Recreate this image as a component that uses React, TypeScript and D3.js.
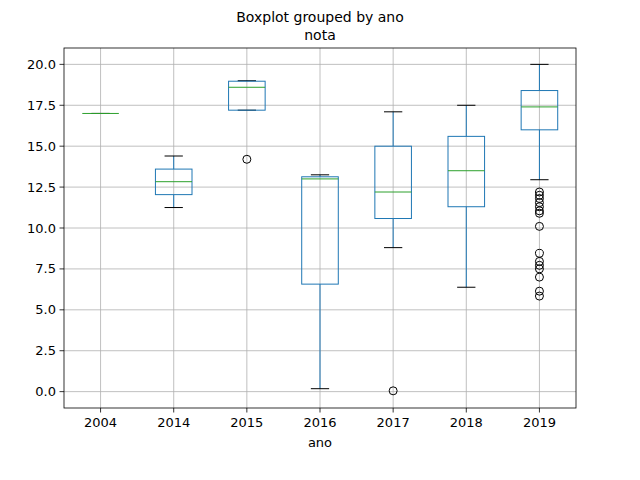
import * as d3 from 'd3'

const years = ['2004', '2014', '2015', '2016', '2017', '2018', '2019']
// [lowWhisker, q1, median, q3, highWhisker]
const stats: number[][] = [
  [17.0, 17.0, 17.0, 17.0, 17.0],
  [11.25, 12.04, 12.83, 13.6, 14.4],
  [17.2, 17.2, 18.6, 18.97, 19.0],
  [0.18, 6.57, 13.0, 13.13, 13.25],
  [8.8, 10.58, 12.2, 15.0, 17.1],
  [6.38, 11.3, 13.5, 15.6, 17.5],
  [12.95, 16.0, 17.4, 18.4, 20.0],
]
const outliers: number[][] = [
  [],
  [],
  [14.2],
  [],
  [0.05],
  [],
  [12.2, 12.0, 11.8, 11.55, 11.3, 11.05, 10.9, 10.1, 8.45, 7.96, 7.72, 7.5, 7.0, 6.14, 5.84],
]
const yTicks = [0, 2.5, 5, 7.5, 10, 12.5, 15, 17.5, 20]

export default function App() {
  const width = 640
  const height = 480
  const m = { left: 64, right: 576, top: 48, bottom: 408 }
  const x = d3.scaleBand().domain(years).range([m.left, m.right])
  const y = d3.scaleLinear().domain([-1, 21]).range([m.bottom, m.top])
  const bw = x.bandwidth()
  const font = 'DejaVu Sans, sans-serif'
  const blue = '#1f77b4'
  return (
    <svg width={width} height={height} style={{ position: 'absolute', left: 0, top: 0 }} fontFamily={font}>
      <rect width={width} height={height} fill="#fff" />
      <text x={320} y={22} textAnchor="middle" fontSize={14}>Boxplot grouped by ano</text>
      <text x={320} y={40} textAnchor="middle" fontSize={14}>nota</text>
      {years.map((yr) => {
        const cx = x(yr)! + bw / 2
        return (
          <g key={yr}>
            <line x1={cx} x2={cx} y1={m.top} y2={m.bottom} stroke="#b0b0b0" strokeWidth={0.8} />
            <line x1={cx} x2={cx} y1={m.bottom} y2={m.bottom + 4.5} stroke="#000" strokeWidth={0.8} />
            <text x={cx} y={m.bottom + 19} textAnchor="middle" fontSize={13}>{yr}</text>
          </g>
        )
      })}
      {yTicks.map((t) => (
        <g key={t}>
          <line x1={m.left} x2={m.right} y1={y(t)} y2={y(t)} stroke="#b0b0b0" strokeWidth={0.8} />
          <line x1={m.left - 4.5} x2={m.left} y1={y(t)} y2={y(t)} stroke="#000" strokeWidth={0.8} />
          <text x={m.left - 8} y={y(t) + 4.5} textAnchor="end" fontSize={13}>{t.toFixed(1)}</text>
        </g>
      ))}
      {years.map((yr, i) => {
        const [lo, q1, med, q3, hi] = stats[i]
        const cx = x(yr)! + bw / 2
        const hb = bw * 0.25
        const hc = bw * 0.125
        return (
          <g key={'b' + yr}>
            <line x1={cx} x2={cx} y1={y(q1)} y2={y(lo)} stroke={blue} />
            <line x1={cx} x2={cx} y1={y(q3)} y2={y(hi)} stroke={blue} />
            <line x1={cx - hc} x2={cx + hc} y1={y(lo)} y2={y(lo)} stroke="#000" />
            <line x1={cx - hc} x2={cx + hc} y1={y(hi)} y2={y(hi)} stroke="#000" />
            <rect x={cx - hb} width={hb * 2} y={y(q3)} height={Math.max(0, y(q1) - y(q3))} fill="none" stroke={blue} />
            <line x1={cx - hb} x2={cx + hb} y1={y(med)} y2={y(med)} stroke="#2ca02c" />
            {outliers[i].map((o, j) => (
              <circle key={j} cx={cx} cy={y(o)} r={4} fill="none" stroke="#000" />
            ))}
          </g>
        )
      })}
      <rect x={m.left} y={m.top} width={m.right - m.left} height={m.bottom - m.top} fill="none" stroke="#000" strokeWidth={0.8} />
      <text x={320} y={447} textAnchor="middle" fontSize={13}>ano</text>
    </svg>
  )
}
